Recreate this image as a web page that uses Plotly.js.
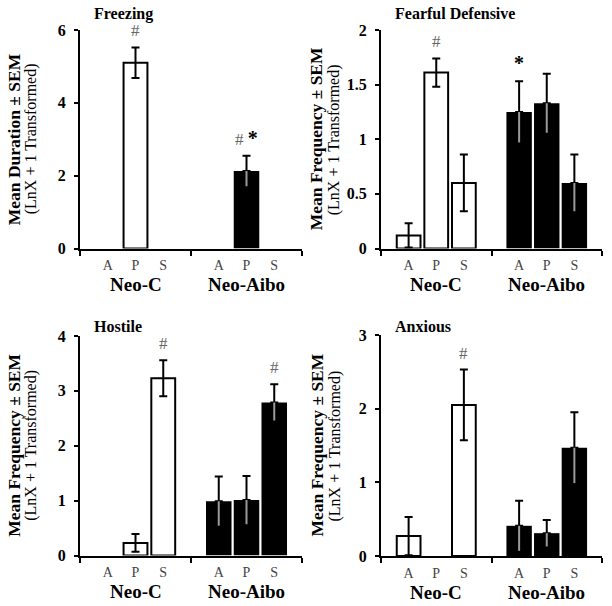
<!DOCTYPE html>
<html>
<head>
<meta charset="utf-8">
<script src="https://cdn.plot.ly/plotly-3.0.1.min.js"></script>
<style>html,body{margin:0;padding:0;background:#fff;}#chart{width:612px;height:606px;}</style>
</head>
<body>
<div id="chart"></div>
<script>
// ---------- data ----------
const conditions = ['A', 'P', 'S'];
const groupNames = ['Neo-C', 'Neo-Aibo'];
const neoCPos = [1, 2, 3];
const neoAiboPos = [5, 6, 7];

const panelTitles = ['Freezing', 'Fearful Defensive', 'Hostile', 'Anxious'];
const yTitles = ['Mean Duration ± SEM', 'Mean Frequency ± SEM', 'Mean Frequency ± SEM', 'Mean Frequency ± SEM'];
const ySubTitle = '(LnX + 1 Transformed)';
const yMax = [6, 2, 4, 3];
const yTicks = [[0, 2, 4, 6], [0, 0.5, 1, 1.5, 2], [0, 1, 2, 3, 4], [0, 1, 2, 3]];

const freezingNeoC = [0, 5.10, 0];
const freezingNeoCSem = [null, 0.42, null];
const freezingNeoAibo = [0, 2.13, 0];
const freezingNeoAiboSem = [null, 0.42, null];

const fearfulNeoC = [0.12, 1.61, 0.60];
const fearfulNeoCSem = [0.11, 0.13, 0.26];
const fearfulNeoAibo = [1.25, 1.33, 0.60];
const fearfulNeoAiboSem = [0.28, 0.27, 0.26];

const hostileNeoC = [0, 0.23, 3.23];
const hostileNeoCSem = [null, 0.16, 0.33];
const hostileNeoAibo = [0.99, 1.01, 2.79];
const hostileNeoAiboSem = [0.45, 0.44, 0.33];

const anxiousNeoC = [0.27, 0, 2.05];
const anxiousNeoCSem = [0.26, null, 0.48];
const anxiousNeoAibo = [0.41, 0.31, 1.47];
const anxiousNeoAiboSem = [0.34, 0.18, 0.48];

// significance marks: [group index, condition index, text]
const freezingMarks = [[0, 1, '#'], [1, 1, '# *']];
const fearfulMarks = [[0, 1, '#'], [1, 0, '*']];
const hostileMarks = [[0, 2, '#'], [1, 2, '#']];
const anxiousMarks = [[0, 2, '#']];

// ---------- build ----------
const panels = [
  {c: freezingNeoC, cs: freezingNeoCSem, a: freezingNeoAibo, as: freezingNeoAiboSem, marks: freezingMarks},
  {c: fearfulNeoC, cs: fearfulNeoCSem, a: fearfulNeoAibo, as: fearfulNeoAiboSem, marks: fearfulMarks},
  {c: hostileNeoC, cs: hostileNeoCSem, a: hostileNeoAibo, as: hostileNeoAiboSem, marks: hostileMarks},
  {c: anxiousNeoC, cs: anxiousNeoCSem, a: anxiousNeoAibo, as: anxiousNeoAiboSem, marks: anxiousMarks}
];

const W = 612, H = 606;
// pixel boxes of each plot area [left, right, top(ymax), bottom(y0)]
const boxes = [
  [80, 302, 30, 248.5],
  [381, 602, 30, 248.5],
  [80, 302, 336, 555.5],
  [381, 602, 335, 556]
];
const titleLeft = [92, 393, 92, 393];
const titleY = [14, 14, 326, 326];
const yTitleX1 = [14, 316, 14, 316];
const yTitleX2 = [31, 334, 31, 334];

const serif = '"Liberation Serif", "Times New Roman", serif';
const traces = [];
const annotations = [];
const layout = {
  width: W, height: H,
  margin: {l: 0, r: 0, t: 0, b: 0},
  paper_bgcolor: '#fff', plot_bgcolor: '#fff',
  showlegend: false,
  barmode: 'overlay',
  font: {family: serif, color: '#000'},
  annotations: annotations
};

const noErr = v => (v === null ? NaN : v);
const zeroErr = v => (v === null ? NaN : 0);

panels.forEach((p, i) => {
  const n = i === 0 ? '' : String(i + 1);
  const xa = 'x' + n, ya = 'y' + n;
  const b = boxes[i];
  layout['xaxis' + n] = {
    domain: [b[0] / W, b[1] / W],
    anchor: ya,
    range: [0, 8],
    showline: true, linecolor: '#000', linewidth: 2,
    showgrid: false, zeroline: false,
    tickmode: 'array',
    tickvals: neoCPos.concat(neoAiboPos),
    ticktext: conditions.concat(conditions),
    ticks: '',
    tickfont: {family: serif, size: 14, color: '#444'},
    ticklabelstandoff: 3,
    minor: {tickmode: 'array', tickvals: [0, 4, 8], ticks: 'outside', ticklen: 5, tickwidth: 2, tickcolor: '#000'},
    fixedrange: true
  };
  layout['yaxis' + n] = {
    domain: [1 - b[3] / H, 1 - b[2] / H],
    anchor: xa,
    range: [0, yMax[i]],
    showline: true, linecolor: '#000', linewidth: 2,
    showgrid: false, zeroline: false,
    tickmode: 'array', tickvals: yTicks[i],
    ticks: 'outside', ticklen: 4, tickwidth: 2, tickcolor: '#000',
    tickfont: {family: serif, size: 16, color: '#000', weight: 'bold'},
    ticklabelstandoff: 5,
    fixedrange: true
  };

  traces.push({
    type: 'bar', x: neoCPos, y: p.c, xaxis: xa, yaxis: ya, width: 0.86,
    marker: {color: '#fff', line: {color: '#000', width: p.c.map(v => v > 0 ? 2 : 0)}},
    error_y: {type: 'data', array: p.cs.map(noErr), visible: true, color: '#000', thickness: 2, width: 4},
    hoverinfo: 'skip', name: groupNames[0]
  });
  traces.push({
    type: 'bar', x: neoAiboPos, y: p.a, xaxis: xa, yaxis: ya, width: 0.92,
    marker: {color: '#000', line: {color: '#000', width: 0}},
    error_y: {type: 'data', symmetric: false, array: p.as.map(noErr), arrayminus: p.as.map(zeroErr),
      visible: true, color: '#000', thickness: 2, width: 4},
    hoverinfo: 'skip', name: groupNames[1]
  });
  // lower half of Neo-Aibo error bars shows grey inside the black bars
  traces.push({
    type: 'bar', x: neoAiboPos, y: p.a, xaxis: xa, yaxis: ya, width: 0.92,
    marker: {color: 'rgba(0,0,0,0)', line: {width: 0}},
    error_y: {type: 'data', symmetric: false, array: p.as.map(zeroErr), arrayminus: p.as.map(noErr),
      visible: true, color: '#9a9a9a', thickness: 2, width: 0},
    hoverinfo: 'skip'
  });

  // significance marks
  p.marks.forEach(m => {
    const vals = m[0] === 0 ? p.c : p.a;
    const sems = m[0] === 0 ? p.cs : p.as;
    const pos = m[0] === 0 ? neoCPos : neoAiboPos;
    let txt = m[2]
      .replace('#', "<span style='color:#666'>#</span>")
      .replace('*', "<span style='color:#000;font-size:20px'><b>*</b></span>");
    annotations.push({
      xref: xa, yref: ya, x: pos[m[1]], y: vals[m[1]] + (sems[m[1]] || 0),
      text: txt, showarrow: false, yanchor: 'bottom', yshift: 5,
      font: {family: serif, size: 17, color: '#666'}
    });
  });

  // group labels
  [2, 6].forEach((gx, gi) => {
    annotations.push({
      xref: xa, yref: ya + ' domain', x: gx, y: 0, yshift: -36, yanchor: 'middle',
      text: '<b>' + groupNames[gi] + '</b>', showarrow: false,
      font: {family: serif, size: 19, color: '#000'}
    });
  });

  // panel title
  annotations.push({
    xref: 'paper', yref: 'paper', x: titleLeft[i] / W, y: 1 - titleY[i] / H,
    xanchor: 'left', yanchor: 'middle', showarrow: false,
    text: '<b>' + panelTitles[i] + '</b>',
    font: {family: serif, size: 16, color: '#000'}
  });

  // y axis titles (two lines)
  annotations.push({
    xref: 'paper', yref: ya + ' domain', x: yTitleX1[i] / W, y: 0.5,
    xanchor: 'center', yanchor: 'middle', textangle: -90, showarrow: false,
    text: '<b>' + yTitles[i] + '</b>',
    font: {family: serif, size: 17.5, color: '#000'}
  });
  annotations.push({
    xref: 'paper', yref: ya + ' domain', x: yTitleX2[i] / W, y: 0.5,
    xanchor: 'center', yanchor: 'middle', textangle: -90, showarrow: false,
    text: ySubTitle,
    font: {family: serif, size: 16, color: '#000'}
  });
});

Plotly.newPlot('chart', traces, layout, {displayModeBar: false, staticPlot: true});
</script>
</body>
</html>
